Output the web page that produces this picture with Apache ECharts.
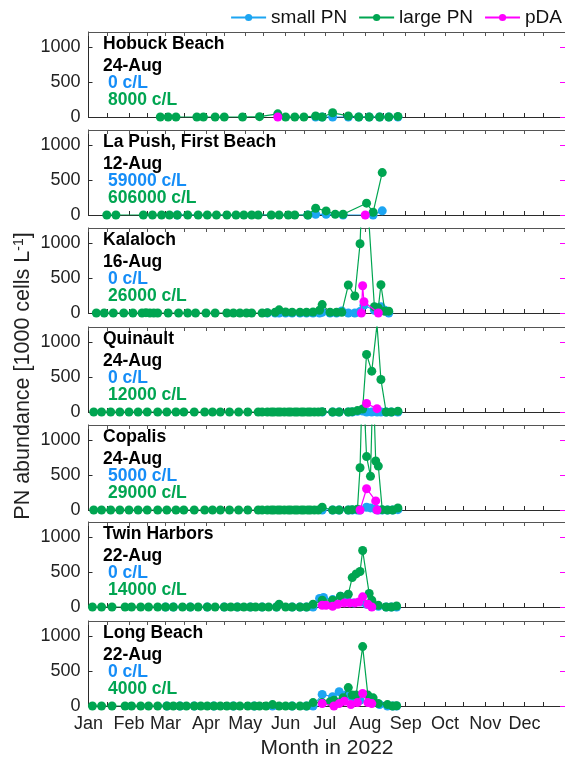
<!DOCTYPE html>
<html><head><meta charset="utf-8">
<script src="https://cdn.jsdelivr.net/npm/echarts@6/dist/echarts.min.js"></script>
<style>html,body{margin:0;padding:0;background:#fff;overflow:hidden}#c{width:565px;height:761px}</style>
</head><body><div id="c"></div>
<script>
// ---------- DATA (x = day of year 2022, y = 1000 cells/L; pDA on right axis) ----------
const monthNames = ['Jan','Feb','Mar','Apr','May','Jun','Jul','Aug','Sep','Oct','Nov','Dec'];
const monthStarts = [1,32,60,91,121,152,182,213,244,274,305,335];
const tickDays = [1,15,32,46,60,74,91,105,121,135,152,166,182,196,213,227,244,258,274,288,305,319,335,349];
const yTicks = [0,500,1000];

const siteNames = ['Hobuck Beach','La Push, First Beach','Kalaloch','Quinault','Copalis','Twin Harbors','Long Beach'];
const lastDates = ['24-Aug','12-Aug','16-Aug','24-Aug','24-Aug','22-Aug','22-Aug'];
const smallLast = ['0 c/L','59000 c/L','0 c/L','0 c/L','5000 c/L','0 c/L','0 c/L'];
const largeLast = ['8000 c/L','606000 c/L','26000 c/L','12000 c/L','29000 c/L','14000 c/L','4000 c/L'];

const hobuckSmall = [[175,0],[180,0],[188,0],[200,0],[208,0],[216,0],[224,0],[231,0],[238,0]];
const hobuckLarge = [[56,0],[62,0],[68,0],[84,0],[89,0],[98,0],[105,0],[119,0],[132,5],[146,45],[152,0],[159,0],[166,0],[175,15],[180,0],[188,60],[200,15],[208,0],[216,0],[224,0],[231,0],[238,8]];
const hobuckPDA = [[146,0]];

const lapushSmall = [[69,0],[169,0],[175,10],[183,10],[196,0],[219,0],[226,59]];
const lapushLarge = [[15,0],[22,0],[43,0],[50,0],[57,0],[63,0],[69,0],[77,0],[85,0],[92,0],[99,0],[107,0],[114,0],[120,0],[126,0],[131,0],[141,0],[147,0],[154,0],[159,0],[169,0],[175,97],[183,58],[190,10],[196,10],[214,169],[219,39],[226,606]];
const lapushPDA = [[213,0]];

const kalalochSmall = [[138,0],[144,0],[147,0],[152,0],[157,0],[163,0],[168,0],[173,0],[178,0],[180,10],[186,0],[191,0],[195,30],[200,0],[205,0],[209,20],[212,110],[220,40],[223,30],[225,90],[228,40],[231,0]];
const kalalochLarge = [[7,0],[13,0],[20,0],[28,0],[35,0],[42,0],[45,5],[48,0],[51,0],[54,0],[62,0],[70,0],[77,0],[83,0],[91,0],[98,0],[107,0],[112,0],[117,0],[122,0],[126,0],[134,0],[138,5],[144,10],[147,45],[152,15],[157,10],[163,10],[168,10],[173,15],[178,40],[180,120],[186,10],[191,10],[195,10],[200,400],[205,243],[209,990],[212,2400],[220,90],[223,73],[225,404],[228,25],[231,26]];
const kalalochPDA = [[210,0],[211,390],[212,160],[223,0]];

const quinaultSmall = [[180,0],[188,0],[193,0],[200,0],[203,0],[207,10],[211,15],[214,0],[218,0],[222,0],[225,0],[229,0],[233,0],[238,0]];
const quinaultLarge = [[5,0],[11,0],[18,0],[25,0],[32,0],[39,0],[46,0],[54,0],[61,0],[68,0],[74,0],[82,0],[90,0],[96,0],[102,0],[109,0],[116,0],[123,0],[131,0],[134,0],[138,0],[141,0],[143,0],[146,0],[148,0],[151,0],[154,0],[156,0],[159,0],[161,0],[164,0],[166,0],[169,0],[171,0],[174,0],[177,0],[180,5],[188,0],[193,0],[200,0],[203,5],[207,20],[211,43],[214,822],[218,584],[222,1250],[225,464],[229,0],[233,0],[238,12]];
const quinaultPDA = [[214,121],[222,48]];

const copalisSmall = [[180,0],[188,0],[193,0],[200,0],[203,0],[207,0],[209,0],[214,40],[217,30],[221,10],[223,0],[226,0],[230,0],[234,0],[238,5]];
const copalisLarge = [[5,0],[11,0],[18,0],[25,0],[32,0],[39,0],[46,0],[54,0],[61,0],[68,0],[74,0],[82,0],[90,0],[96,0],[102,0],[109,0],[116,0],[123,0],[131,0],[134,0],[138,0],[141,0],[143,0],[146,0],[148,0],[151,0],[154,0],[156,0],[159,0],[161,0],[164,0],[166,0],[169,0],[171,0],[174,0],[177,0],[180,39],[188,0],[193,0],[200,0],[203,5],[207,10],[209,604],[211,2000],[214,763],[217,483],[219,1900],[221,700],[223,628],[226,5],[230,0],[234,0],[238,29]];
const copalisPDA = [[209,0],[214,304],[221,130],[222,0]];

const twinSmall = [[60,0],[66,0],[79,0],[92,0],[105,0],[115,0],[125,0],[134,0],[145,0],[157,0],[163,0],[168,0],[173,0],[178,121],[181,135],[188,106],[194,155],[199,97],[204,58],[210,72],[214,39],[218,24],[223,10],[229,0],[233,0],[237,0]];
const twinLarge = [[4,0],[11,0],[19,0],[29,0],[34,0],[41,0],[47,0],[54,0],[60,0],[66,0],[73,0],[79,0],[85,0],[92,0],[98,0],[105,0],[110,0],[115,0],[120,0],[125,0],[129,0],[134,0],[139,0],[145,0],[147,39],[152,0],[157,0],[163,0],[168,0],[173,39],[180,97],[188,97],[194,155],[200,183],[203,420],[206,473],[209,507],[211,807],[216,193],[218,97],[223,24],[229,0],[233,0],[237,14]];
const twinPDA = [[180,24],[183,24],[188,10],[192,39],[197,58],[201,58],[205,58],[208,72],[211,145],[215,39],[218,0]];

const longSmall = [[61,0],[71,0],[82,0],[97,0],[112,0],[128,0],[142,0],[157,0],[168,0],[173,0],[180,166],[188,132],[193,205],[198,156],[203,117],[209,83],[216,49],[224,20],[230,0],[234,0],[237,0]];
const longLarge = [[4,0],[11,0],[19,0],[29,0],[34,0],[41,0],[47,0],[54,0],[61,0],[66,0],[71,0],[76,0],[82,0],[87,0],[92,0],[97,0],[102,0],[107,0],[112,0],[117,0],[123,0],[128,0],[132,0],[137,0],[142,20],[147,0],[152,0],[157,0],[163,0],[168,0],[173,49],[180,49],[186,59],[189,83],[196,117],[200,263],[203,156],[206,156],[211,849],[215,156],[219,117],[223,34],[230,20],[234,0],[237,4]];
const longPDA = [[180,34],[189,0],[193,34],[197,68],[202,20],[207,49],[211,180],[215,49],[218,34]];

const smallSets = [hobuckSmall, lapushSmall, kalalochSmall, quinaultSmall, copalisSmall, twinSmall, longSmall];
const largeSets = [hobuckLarge, lapushLarge, kalalochLarge, quinaultLarge, copalisLarge, twinLarge, longLarge];
const pdaSets = [hobuckPDA, lapushPDA, kalalochPDA, quinaultPDA, copalisPDA, twinPDA, longPDA];

// ---------- STYLE / LAYOUT ----------
const FONT = '"Liberation Sans", Arial, Helvetica, sans-serif';
const C_SMALL = '#1DA5F2', C_LARGE = '#00A551', C_PDA = '#FF00FF';
const C_SMALL_TXT = '#158DF7';
const gridTops = [32,130,228,327,425,522,621];
const gridH = 85, gridLeft = 88.5, gridRight = -2.5;
const YMAX = 1215;
const AX = '#2b2b2b';

const grids = [], xAxes = [], yAxes = [], series = [], graphics = [];
gridTops.forEach((top, i) => {
  grids.push({left: gridLeft, right: gridRight, top: top, height: gridH, containLabel: false});
  xAxes.push({
    type: 'value', gridIndex: i, min: 1, max: 366, position: 'bottom',
    axisLine: {show: true, onZero: false, lineStyle: {color: AX, width: 1}},
    axisTick: {show: true, inside: true, length: 4, customValues: tickDays, lineStyle: {color: AX}},
    axisLabel: {show: i === 6, customValues: monthStarts, margin: 9, fontSize: 18, color: '#222', fontFamily: FONT,
      formatter: v => monthNames[monthStarts.indexOf(v)] || ''},
    splitLine: {show: false}
  });
  xAxes.push({
    type: 'value', gridIndex: i, min: 1, max: 366, position: 'top',
    axisLine: {show: true, onZero: false, lineStyle: {color: '#555', width: 1}},
    axisTick: {show: true, inside: true, length: 4, customValues: tickDays, lineStyle: {color: '#555'}},
    axisLabel: {show: false}, splitLine: {show: false}
  });
  yAxes.push({
    type: 'value', gridIndex: i, min: 0, max: YMAX, position: 'left',
    axisLine: {show: true, onZero: false, lineStyle: {color: AX, width: 1}},
    axisTick: {show: true, inside: true, length: 4, customValues: yTicks, lineStyle: {color: AX}},
    axisLabel: {show: true, customValues: yTicks, margin: 8, fontSize: 18, color: '#222', fontFamily: FONT,
      formatter: v => String(v)},
    splitLine: {show: false}
  });
  yAxes.push({
    type: 'value', gridIndex: i, min: 0, max: YMAX, position: 'right',
    axisLine: {show: false, onZero: false, lineStyle: {color: C_PDA, width: 1}},
    axisTick: {show: true, inside: true, length: 5, customValues: yTicks, lineStyle: {color: C_PDA}},
    axisLabel: {show: false}, splitLine: {show: false}
  });
  const common = {type: 'line', xAxisIndex: 2*i, symbol: 'circle', symbolSize: 9, animation: false,
    emphasis: {disabled: true}, clip: true};
  series.push(Object.assign({}, common, {name: 'small PN', yAxisIndex: 2*i, data: smallSets[i], z: 2,
    itemStyle: {color: C_SMALL}, lineStyle: {color: C_SMALL, width: 1.2}}));
  series.push(Object.assign({}, common, {name: 'large PN', yAxisIndex: 2*i, data: largeSets[i], z: 3,
    itemStyle: {color: C_LARGE}, lineStyle: {color: C_LARGE, width: 1.2}}));
  series.push(Object.assign({}, common, {name: 'pDA', yAxisIndex: 2*i+1, data: pdaSets[i], z: 4,
    itemStyle: {color: C_PDA}, lineStyle: {color: C_PDA, width: 1.2}}));

  const tf = {fontFamily: FONT, fontWeight: 'bold', fontSize: 17.5, verticalAlign: 'middle', align: 'left'};
  graphics.push({type: 'text', x: 103, y: top + 12, z: 10, style: Object.assign({text: siteNames[i], fill: '#000'}, tf)});
  graphics.push({type: 'text', x: 103, y: top + 34.5, z: 10, style: Object.assign({text: lastDates[i], fill: '#000'}, tf)});
  graphics.push({type: 'text', x: 108, y: top + 51.5, z: 10, style: Object.assign({text: smallLast[i], fill: C_SMALL_TXT}, tf)});
  graphics.push({type: 'text', x: 108, y: top + 68, z: 10, style: Object.assign({text: largeLast[i], fill: C_LARGE}, tf)});
});

graphics.push({type: 'text', x: 23, y: 376, rotation: Math.PI / 2, z: 10,
  style: {text: '{n|PN abundance [1000 cells L}{s|-1}{n|]}', align: 'center', verticalAlign: 'middle', fill: '#222',
    rich: {n: {fontSize: 21.5, fontFamily: FONT, fill: '#222'}, s: {fontSize: 14, fontFamily: FONT, fill: '#222', verticalAlign: 'top', padding: [0,0,8,0]}}}});
graphics.push({type: 'text', x: 327, y: 748, z: 10,
  style: {text: 'Month in 2022', align: 'center', verticalAlign: 'middle', fontSize: 21, fontFamily: FONT, fill: '#222'}});

const chart = echarts.init(document.getElementById('c'), null, {renderer: 'canvas'});
chart.setOption({
  animation: false,
  backgroundColor: '#fff',
  legend: {right: 3, top: 8, itemWidth: 35, itemHeight: 9, itemGap: 11, padding: 0,
    textStyle: {fontSize: 19, color: '#111', fontFamily: FONT},
    data: ['small PN', 'large PN', 'pDA']},
  grid: grids, xAxis: xAxes, yAxis: yAxes, series: series, graphic: graphics
});
</script></body></html>
